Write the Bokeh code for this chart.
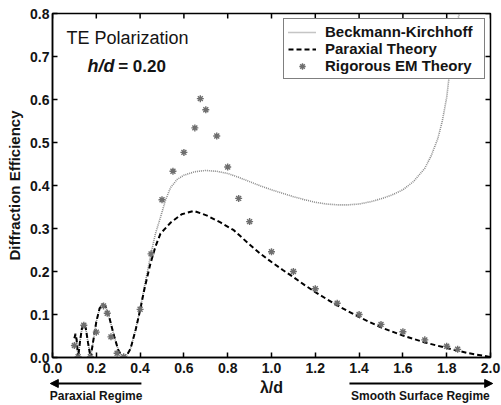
import math
from bokeh.plotting import figure
from bokeh.layouts import column
from bokeh.models import (Range1d, FixedTicker, Label, Arrow, NormalHead,
                          PrintfTickFormatter)
from bokeh.embed import file_html
from bokeh.resources import INLINE

# ---- data ----
parax_x = [0.100, 0.105, 0.110, 0.117, 0.125, 0.135, 0.143, 0.152, 0.162, 0.174,
           0.185, 0.200, 0.215, 0.230, 0.245, 0.260, 0.280, 0.300, 0.315, 0.326,
           0.340, 0.356, 0.380, 0.400, 0.420, 0.447, 0.470, 0.493, 0.540, 0.590,
           0.645, 0.706, 0.767, 0.828, 0.897, 0.950, 1.000, 1.050, 1.100, 1.150,
           1.200, 1.300, 1.400, 1.500, 1.600, 1.700, 1.800, 1.900, 2.000]
parax_y = [0.045, 0.055, 0.042, 0.000, 0.035, 0.070, 0.078, 0.068, 0.035, 0.000,
           0.035, 0.083, 0.114, 0.124, 0.116, 0.092, 0.052, 0.018, 0.004, 0.000,
           0.006, 0.020, 0.065, 0.110, 0.160, 0.218, 0.258, 0.288, 0.314, 0.333,
           0.341, 0.330, 0.314, 0.296, 0.264, 0.241, 0.222, 0.204, 0.187, 0.169,
           0.152, 0.121, 0.094, 0.070, 0.051, 0.035, 0.022, 0.010, 0.001]

bk_x = [0.100, 0.105, 0.110, 0.117, 0.125, 0.135, 0.143, 0.152, 0.162, 0.174,
        0.185, 0.200, 0.215, 0.230, 0.245, 0.260, 0.280, 0.300, 0.315, 0.326,
        0.340, 0.356, 0.380, 0.400, 0.420, 0.447, 0.470, 0.493, 0.516, 0.539,
        0.569, 0.600, 0.650, 0.700, 0.750, 0.800, 0.850, 0.900, 0.950, 1.000,
        1.050, 1.100, 1.150, 1.200, 1.250, 1.300, 1.350, 1.400, 1.450, 1.500,
        1.550, 1.600, 1.650, 1.700, 1.730, 1.760, 1.780, 1.800, 1.815, 1.830,
        1.845, 1.858]
bk_y = [0.045, 0.055, 0.042, 0.000, 0.035, 0.070, 0.078, 0.068, 0.035, 0.000,
        0.035, 0.083, 0.114, 0.124, 0.116, 0.092, 0.052, 0.018, 0.004, 0.000,
        0.006, 0.020, 0.066, 0.112, 0.165, 0.235, 0.288, 0.326, 0.366, 0.395,
        0.414, 0.424, 0.432, 0.435, 0.433, 0.428, 0.419, 0.409, 0.399, 0.390,
        0.382, 0.374, 0.367, 0.361, 0.357, 0.355, 0.355, 0.357, 0.362, 0.369,
        0.378, 0.390, 0.410, 0.440, 0.470, 0.510, 0.550, 0.605, 0.670, 0.730,
        0.775, 0.800]

em_x = [0.100, 0.117, 0.143, 0.173, 0.200, 0.233, 0.250, 0.267, 0.295, 0.325,
        0.400, 0.450, 0.500, 0.550, 0.600, 0.650, 0.675, 0.700, 0.750, 0.800,
        0.850, 0.900, 1.000, 1.100, 1.200, 1.300, 1.400, 1.500, 1.600, 1.700,
        1.800, 1.850]
em_y = [0.028, 0.002, 0.075, 0.002, 0.059, 0.120, 0.103, 0.048, 0.010, 0.002,
        0.112, 0.241, 0.367, 0.433, 0.477, 0.534, 0.602, 0.576, 0.515, 0.443,
        0.370, 0.316, 0.246, 0.200, 0.160, 0.126, 0.100, 0.077, 0.060, 0.041,
        0.026, 0.019]

x_ticks = [0.0, 0.2, 0.4, 0.6, 0.8, 1.0, 1.2, 1.4, 1.6, 1.8, 2.0]
y_ticks = [0.0, 0.1, 0.2, 0.3, 0.4, 0.5, 0.6, 0.7, 0.8]
X0, X1 = 0.0, 2.0
Y0, Y1 = 0.0, 0.8

# regime arrows (in lambda/d units)
paraxial_span = (0.406, -0.01)
smooth_span = (1.356, 2.01)

FONT = "Liberation Sans"
INK = "#141414"

# ---------------- main chart ----------------
p = figure(width=501, height=378, x_range=Range1d(X0, X1), y_range=Range1d(Y0, Y1),
           output_backend="svg", toolbar_location=None,
           min_border_left=52, min_border_right=11, min_border_top=13,
           min_border_bottom=21)
p.frame_align = False
p.grid.visible = False
p.outline_line_color = "black"
p.outline_line_width = 1.5
p.background_fill_color = "white"
p.border_fill_color = "white"

for ax, ticks in ((p.xaxis[0], x_ticks), (p.yaxis[0], y_ticks)):
    ax.ticker = FixedTicker(ticks=ticks)
    ax.formatter = PrintfTickFormatter(format="%.1f")
    ax.major_tick_in = 5
    ax.major_tick_out = 0
    ax.minor_tick_line_color = None
    ax.major_tick_line_width = 1.5
    ax.major_tick_line_color = "black"
    ax.axis_line_width = 1.5
    ax.axis_line_color = "black"
    ax.major_label_text_font = FONT
    ax.major_label_text_font_style = "bold"
    ax.major_label_text_font_size = "14px"
    ax.major_label_text_color = INK
p.xaxis.major_label_standoff = 5
p.yaxis.major_label_standoff = 3

p.yaxis.axis_label = "Diffraction Efficiency"
p.yaxis.axis_label_text_font = FONT
p.yaxis.axis_label_text_font_style = "bold"
p.yaxis.axis_label_text_font_size = "15px"
p.yaxis.axis_label_text_color = INK
p.yaxis.axis_label_standoff = 4

# inward ticks on the top and right edges of the box
p.ray(x=x_ticks, y=Y1, length=5, length_units="screen", angle=-math.pi / 2,
      line_color="black", line_width=1.5)
p.ray(x=X1, y=y_ticks, length=5, length_units="screen", angle=math.pi,
      line_color="black", line_width=1.5)

p.line(bk_x, bk_y, line_color="#8a8a8a", line_width=1.6, line_dash="1 1",
       legend_label="Beckmann-Kirchhoff")
p.line(parax_x, parax_y, line_color="black", line_width=2, line_dash="5 3",
       legend_label="Paraxial Theory")
p.scatter(em_x, em_y, marker="asterisk", size=7, line_color="#6e6e6e",
          line_width=1.4, legend_label="Rigorous EM Theory")

lg = p.legend[0]
lg.location = "top_right"
lg.margin = 5
lg.padding = 4
lg.spacing = 0
lg.border_line_color = "black"
lg.border_line_width = 1
lg.background_fill_color = "white"
lg.background_fill_alpha = 1.0
lg.label_text_font = FONT
lg.label_text_font_style = "bold"
lg.label_text_font_size = "15px"
lg.label_text_color = INK
lg.label_height = 16
lg.glyph_height = 16
lg.glyph_width = 28
lg.label_standoff = 9
lg.label_width = 155

p.add_layout(Label(x=0.064, y=0.742, text="TE Polarization", text_font=FONT,
                   text_font_size="18px", text_baseline="middle", text_color=INK))
p.add_layout(Label(x=0.160, y=0.677, text="h/d", text_font=FONT,
                   text_font_size="18px", text_font_style="bold italic",
                   text_baseline="middle", text_color=INK))
p.add_layout(Label(x=0.300, y=0.677, text="= 0.20", text_font=FONT,
                   text_font_size="17px", text_font_style="bold",
                   text_baseline="middle", text_color=INK))

# ---------------- strip below: x label and regime arrows ----------------
px_per_unit = (501 - 52 - 11) / (X1 - X0)
s = figure(width=501, height=27,
           x_range=Range1d(X0 - 52 / px_per_unit, X1 + 11 / px_per_unit),
           y_range=Range1d(27, 0), output_backend="svg", toolbar_location=None,
           x_axis_type=None, y_axis_type=None, min_border=0)
s.frame_align = False
s.grid.visible = False
s.outline_line_color = None
s.background_fill_color = "white"
s.border_fill_color = "white"

for (xa, xb) in (paraxial_span, smooth_span):
    s.add_layout(Arrow(end=NormalHead(size=8, fill_color="black", line_color="black"),
                       x_start=xa, y_start=5, x_end=xb, y_end=5,
                       line_width=2, line_color="black"))
s.add_layout(Label(x=(X0 + X1) / 2, y=9, text="λ/d", text_font=FONT,
                   text_font_size="16px", text_font_style="bold",
                   text_align="center", text_baseline="middle", text_color=INK))
s.add_layout(Label(x=0.199, y=17.5, text="Paraxial Regime", text_font=FONT,
                   text_font_size="12px", text_font_style="bold",
                   text_align="center", text_baseline="middle", text_color=INK))
s.add_layout(Label(x=1.68, y=17.5, text="Smooth Surface Regime", text_font=FONT,
                   text_font_size="12px", text_font_style="bold",
                   text_align="center", text_baseline="middle", text_color=INK))

layout = column(p, s, spacing=0)
open("out.html", "w").write(file_html(layout, INLINE))
